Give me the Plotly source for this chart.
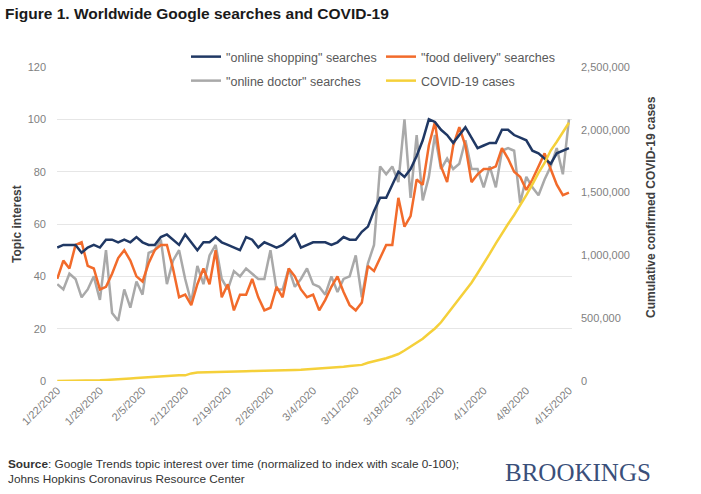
import pandas as pd
import plotly.graph_objects as go

dates = pd.date_range("2020-01-22", "2020-04-15", freq="D")

online_shopping = [51, 52, 52, 52, 49, 51, 52, 51, 54, 54, 53, 54, 53, 55, 53, 52, 52, 55, 56, 54,
                   52, 56, 53, 50, 53, 53, 55, 53, 52, 51, 50, 55, 54, 51, 53, 52, 51, 52, 54, 56,
                   51, 52, 53, 53, 53, 52, 53, 55, 54, 54, 57, 59, 65, 70, 70, 75, 80, 78, 81, 86,
                   92, 100, 99, 96, 94, 91, 94, 97, 93, 89, 90, 91, 91, 96, 96, 94, 93, 92, 88, 87,
                   85, 83, 87, 88, 89]
food_delivery = [39, 46, 43, 52, 53, 44, 43, 35, 36, 41, 47, 50, 46, 40, 38, 45, 50, 52, 52, 43,
                 32, 33, 29, 37, 43, 37, 50, 32, 37, 27, 33, 33, 39, 32, 27, 28, 36, 32, 43, 40,
                 35, 32, 33, 27, 31, 36, 40, 34, 29, 27, 30, 44, 42, 47, 52, 52, 70, 59, 63, 77,
                 75, 90, 99, 82, 76, 90, 97, 90, 76, 79, 81, 81, 82, 89, 85, 80, 78, 73, 77, 82,
                 87, 81, 75, 71, 72]
online_doctor = [37, 35, 41, 39, 32, 35, 40, 31, 50, 26, 23, 35, 28, 38, 33, 49, 50, 54, 37, 46,
                 50, 39, 30, 44, 37, 48, 52, 39, 35, 42, 40, 43, 41, 39, 39, 50, 35, 35, 43, 36,
                 39, 43, 37, 36, 33, 40, 34, 39, 40, 48, 32, 45, 52, 82, 79, 82, 76, 100, 70, 94,
                 69, 78, 94, 81, 85, 81, 83, 92, 81, 81, 74, 82, 74, 88, 89, 88, 68, 78, 74, 71,
                 77, 82, 89, 79, 100]
covid_cases = [555, 654, 941, 1434, 2118, 2927, 5578, 6166, 8234, 9927, 12038, 16787, 19881,
               23892, 27635, 30794, 34391, 37120, 40150, 42762, 44802, 45221, 60368, 66885,
               69030, 71224, 73258, 75136, 75639, 76197, 76819, 78572, 78958, 79561, 80406,
               81388, 82746, 84112, 86011, 88369, 90306, 92840, 95120, 97886, 101801, 105847,
               109821, 113590, 118620, 125875, 128352, 145205, 156101, 167454, 181574, 197102,
               214821, 242570, 272208, 304507, 336953, 378235, 418045, 467653, 529591, 593291,
               660706, 720117, 782365, 857487, 932605, 1013466, 1095917, 1176060, 1249754,
               1321481, 1396476, 1479804, 1565278, 1657526, 1735650, 1834721, 1904838,
               1976191, 2056054]

tick_dates = pd.date_range("2020-01-22", "2020-04-15", freq="7D")
tick_labels = [f"{d.month}/{d.day}/{d.year}" for d in tick_dates]
left_ticks = [0, 20, 40, 60, 80, 100, 120]
right_ticks = [0, 500000, 1000000, 1500000, 2000000, 2500000]
right_labels = ["0", "500,000", "1,000,000", "1,500,000", "2,000,000", "2,500,000"]

NAVY = "#203864"
ORANGE = "#F26B2B"
GRAY = "#A9A9A9"
YELLOW = "#F5D03A"
FONT = "Liberation Sans"

fig = go.Figure()
fig.add_trace(go.Scatter(x=dates, y=covid_cases, name="COVID-19 cases", yaxis="y2",
                         mode="lines", line=dict(color=YELLOW, width=2.5), legend="legend2"))
fig.add_trace(go.Scatter(x=dates, y=online_doctor, name='"online doctor" searches',
                         mode="lines", line=dict(color=GRAY, width=2.5), legend="legend2"))
fig.add_trace(go.Scatter(x=dates, y=food_delivery, name='"food delivery" searches',
                         mode="lines", line=dict(color=ORANGE, width=2.5), legend="legend"))
fig.add_trace(go.Scatter(x=dates, y=online_shopping, name='"online shopping" searches',
                         mode="lines", line=dict(color=NAVY, width=2.5), legend="legend"))

legend_common = dict(orientation="h", xref="paper", yref="paper", xanchor="left",
                     yanchor="middle", bgcolor="rgba(0,0,0,0)",
                     font=dict(family=FONT, size=12.5, color="#595959"),
                     entrywidth=150, entrywidthmode="pixels", itemwidth=30,
                     traceorder="reversed", tracegroupgap=0)

fig.update_layout(
    width=701, height=494,
    margin=dict(l=57, r=129, t=67, b=113),
    paper_bgcolor="white", plot_bgcolor="white",
    showlegend=True,
    legend=dict(**legend_common, x=(186 - 57) / 515, y=1 + (67 - 57) / 314),
    legend2=dict(**legend_common, x=(186 - 57) / 515, y=1 - (81 - 67) / 314),
    xaxis=dict(
        type="date",
        range=[pd.Timestamp("2020-01-21 23:00"), pd.Timestamp("2020-04-15 12:00")],
        tickvals=tick_dates, ticktext=tick_labels, tickangle=-45,
        tickfont=dict(family=FONT, size=11, color="#7f7f7f"),
        showgrid=False, zeroline=False, showline=False, ticks="",
    ),
    yaxis=dict(
        range=[0, 120], tickvals=left_ticks,
        tickfont=dict(family=FONT, size=11, color="#7f7f7f"),
        showgrid=True, gridcolor="#E6E6E6", gridwidth=1,
        zeroline=False, showline=False, ticks="", ticklabelstandoff=10,
    ),
    yaxis2=dict(
        overlaying="y", side="right", range=[0, 2500000],
        tickvals=right_ticks, ticktext=right_labels,
        tickfont=dict(family=FONT, size=11, color="#7f7f7f"),
        showgrid=False, zeroline=False, showline=False, ticks="", ticklabelstandoff=8,
    ),
    annotations=[
        dict(text="<b>Figure 1. Worldwide Google searches and COVID-19</b>",
             xref="paper", yref="paper", x=-54 / 515, y=1 + (67 - 14) / 314,
             xanchor="left", yanchor="middle", showarrow=False,
             font=dict(family=FONT, size=15.5, color="#1a1a1a")),
        dict(text="<b>Topic interest</b>", xref="paper", yref="paper",
             x=-(57 - 17) / 515, y=(381 - 224) / 314, textangle=-90,
             xanchor="center", yanchor="middle", showarrow=False,
             font=dict(family=FONT, size=12, color="#404040")),
        dict(text="<b>Cumulative confirmed COVID-19 cases</b>", xref="paper", yref="paper",
             x=(651 - 57) / 515, y=(381 - 207) / 314, textangle=-90,
             xanchor="center", yanchor="middle", showarrow=False,
             font=dict(family=FONT, size=12, color="#404040")),
        dict(text="<b>Source</b>: Google Trends topic interest over time (normalized to index with scale 0-100);<br>Johns Hopkins Coronavirus Resource Center",
             xref="paper", yref="paper", x=-51 / 515, y=-(471 - 381) / 314,
             xanchor="left", yanchor="middle", showarrow=False, align="left",
             font=dict(family=FONT, size=11.8, color="#333333")),
        dict(text="BROOKINGS", xref="paper", yref="paper",
             x=(578 - 57) / 515, y=-(472 - 381) / 314,
             xanchor="center", yanchor="middle", showarrow=False,
             font=dict(family="Liberation Serif", size=25, color="#3A4F7A")),
    ],
)

fig.write_html("out.html")
